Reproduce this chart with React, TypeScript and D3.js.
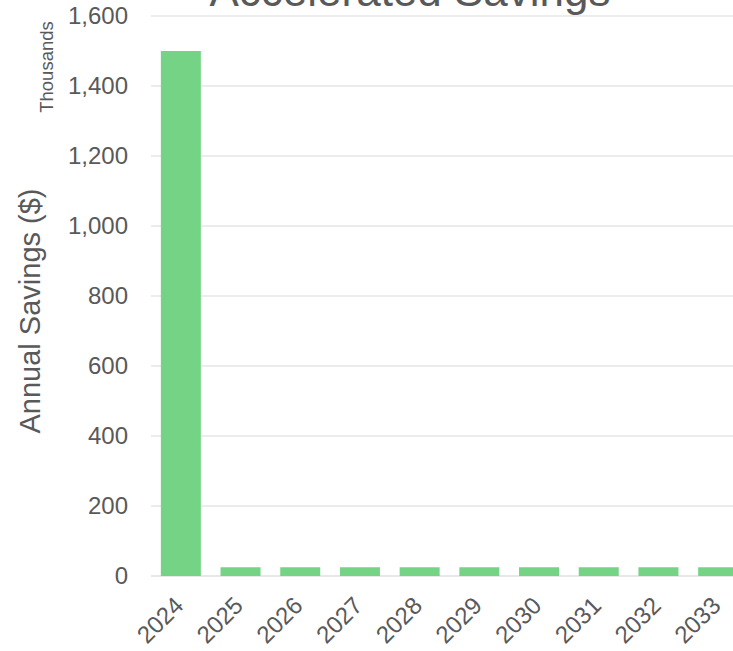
import React from "react";
import * as d3 from "d3";

const years = ["2024", "2025", "2026", "2027", "2028", "2029", "2030", "2031", "2032", "2033"];
const savings = [1500, 25, 25, 25, 25, 25, 25, 25, 25, 25];
const yTicks = [0, 200, 400, 600, 800, 1000, 1200, 1400, 1600];

const W = 733;
const H = 651;
const FONT = "Arial, 'Liberation Sans', sans-serif";

export default function App() {
  const x = d3.scaleBand<string>().domain(years).range([151, 748]).paddingInner(0.33).paddingOuter(0.165);
  const y = d3.scaleLinear().domain([0, 1600]).range([576, 16]);
  const fmt = d3.format(",");

  return (
    <svg width={W} height={H} style={{ position: "absolute", left: 0, top: 0, background: "#fff" }}>
      <rect x={0} y={0} width={W} height={H} fill="#fff" />
      <text x={410} y={6} textAnchor="middle" fontFamily={FONT} fontSize={44} fill="#595959">
        Accelerated Savings
      </text>
      {yTicks.map((t) => (
        <g key={t}>
          <line x1={151} x2={W} y1={y(t)} y2={y(t)} stroke={t === 0 ? "#d0d0d0" : "#d9d9d9"} strokeWidth={1} />
          <text x={128} y={y(t)} dy="0.35em" textAnchor="end" fontFamily={FONT} fontSize={24} fill="#595959">
            {fmt(t)}
          </text>
        </g>
      ))}
      {years.map((yr, i) => (
        <rect key={yr} x={x(yr)} y={y(savings[i])} width={x.bandwidth()} height={y(0) - y(savings[i])} fill="#75d385" />
      ))}
      {years.map((yr) => {
        const cx = (x(yr) as number) + x.bandwidth() / 2;
        return (
          <text
            key={yr}
            transform={`translate(${cx + 4},${607}) rotate(-45)`}
            textAnchor="end"
            fontFamily={FONT}
            fontSize={24}
            fill="#595959"
          >
            {yr}
          </text>
        );
      })}
      <text transform={`translate(53,67) rotate(-90)`} textAnchor="middle" fontFamily={FONT} fontSize={18.5} fill="#595959">
        Thousands
      </text>
      <text transform={`translate(40,311) rotate(-90)`} textAnchor="middle" fontFamily={FONT} fontSize={29} fill="#595959">
        Annual Savings ($)
      </text>
    </svg>
  );
}
